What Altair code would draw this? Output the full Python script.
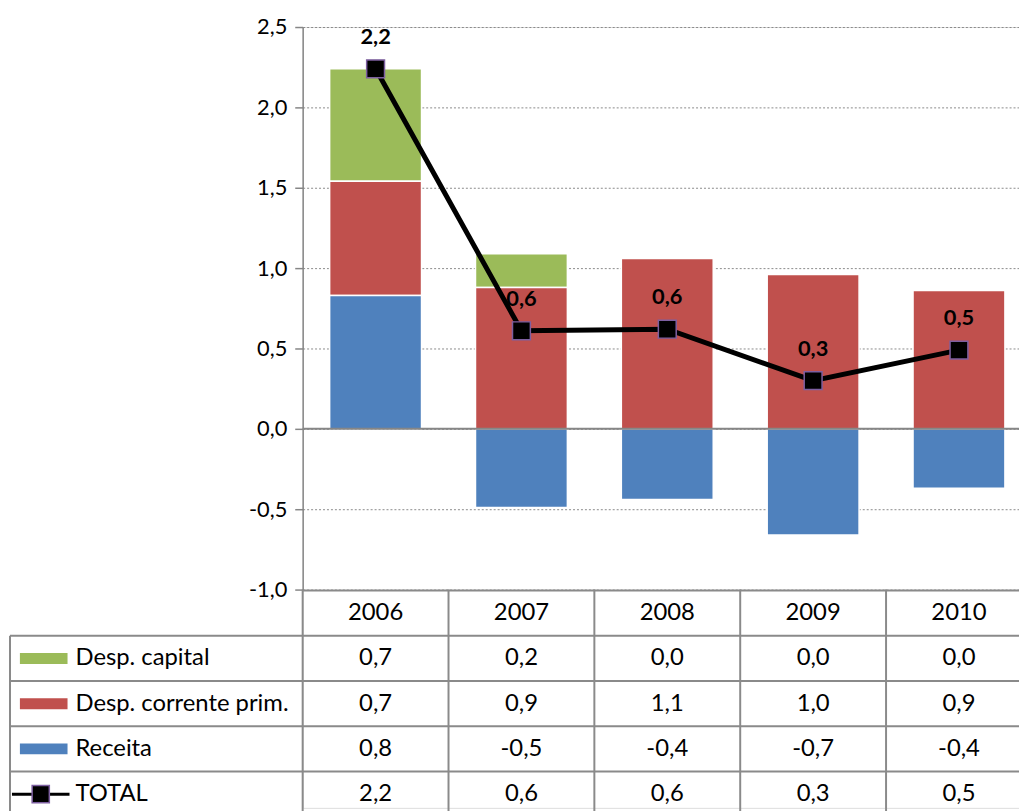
import altair as alt
import pandas as pd

# ---- data ----
years = ["2006", "2007", "2008", "2009", "2010"]
series_names = ["Desp. capital", "Desp. corrente prim.", "Receita"]
desp_capital = [0.70, 0.21, 0.00, 0.00, 0.00]
desp_corrente = [0.71, 0.88, 1.06, 0.96, 0.86]
receita = [0.83, -0.49, -0.44, -0.66, -0.37]
total = [2.24, 0.61, 0.62, 0.30, 0.49]
colors = ["#9BBB59", "#C0504D", "#4F81BD"]
table_rows = ["Ano", "Desp. capital", "Desp. corrente prim.", "Receita", "TOTAL"]
y_ticks = [-1.0, -0.5, 0.0, 0.5, 1.0, 1.5, 2.0, 2.5]


def fmt(v):
    return f"{v:.1f}".replace(".", ",")


# ---- tables built from the arrays ----
stack_order = {"Receita": 0, "Desp. corrente prim.": 1, "Desp. capital": 2}
series_vals = {"Desp. capital": desp_capital, "Desp. corrente prim.": desp_corrente, "Receita": receita}
bars = pd.DataFrame([
    {"year": y, "series": s, "value": series_vals[s][i], "order": stack_order[s]}
    for s in series_names for i, y in enumerate(years)
])
tot = pd.DataFrame({"year": years, "total": total, "label": [fmt(v) for v in total]})

cells = []
for i, y in enumerate(years):
    cells.append({"row": "Ano", "year": y, "txt": y})
    for s in series_names:
        cells.append({"row": s, "year": y, "txt": fmt(series_vals[s][i])})
    cells.append({"row": "TOTAL", "year": y, "txt": fmt(total[i])})
cells = pd.DataFrame(cells)
rows_df = pd.DataFrame({"row": table_rows})
keys_df = pd.DataFrame({"row": series_names, "series": series_names})
years_df = pd.DataFrame({"year": years})

FONT = "Lato"
GRID = "#8a8a8a"

# ---- scales ----
xs = alt.Scale(domain=years, range=[0, 735], paddingInner=0.37, paddingOuter=0.185)
ys = alt.Scale(domain=[-1, 2.5], range=[567, 0], nice=False, zero=False)
cs = alt.Scale(domain=series_names, range=colors)
xt = alt.Scale(domain=years, range=[0, 735], paddingInner=0, paddingOuter=0)
yt = alt.Scale(domain=table_rows, range=[568, 796], paddingInner=0, paddingOuter=0)

label_expr = "replace(replace(format(datum.value, '.1f'), '.', ','), '\u2212', '-')"
y_axis = alt.Axis(
    values=y_ticks, labelExpr=label_expr, title=None, grid=True, gridDash=[2, 2],
    gridColor=GRID, gridWidth=1, domainColor="#868686", domainWidth=1.5,
    tickColor="#868686", tickSize=8, tickWidth=1.5, labelFontSize=22, labelFont=FONT,
    labelColor="black", labelPadding=8,
)

bar_layer = alt.Chart(bars).mark_bar(stroke="white", strokeWidth=1.5).encode(
    x=alt.X("year:N", scale=xs, axis=None),
    y=alt.Y("value:Q", stack="zero", scale=ys, axis=y_axis),
    color=alt.Color("series:N", scale=cs, legend=None),
    order=alt.Order("order:Q"),
)
zero_line = alt.Chart(pd.DataFrame({"z": [0]})).mark_rule(color="#868686", strokeWidth=2).encode(
    y=alt.Y("z:Q", scale=ys)
)
line = alt.Chart(tot).mark_line(color="black", strokeWidth=5).encode(
    x=alt.X("year:N", scale=xs, axis=None),
    y=alt.Y("total:Q", scale=ys),
)
points = alt.Chart(tot).mark_square(
    size=324, color="black", opacity=1, stroke="#7D5FA0", strokeWidth=1.5
).encode(
    x=alt.X("year:N", scale=xs, axis=None),
    y=alt.Y("total:Q", scale=ys),
)
labels = alt.Chart(tot).mark_text(
    font=FONT, fontWeight="bold", fontSize=22, dy=-25, baseline="alphabetic", color="black"
).encode(
    x=alt.X("year:N", scale=xs, axis=None),
    y=alt.Y("total:Q", scale=ys),
    text="label:N",
)
plot = alt.layer(bar_layer, zero_line, line, points, labels)

# ---- data table ----
cell_text = alt.Chart(cells).mark_text(font=FONT, fontSize=24, color="black").encode(
    x=alt.X("year:N", scale=xt, axis=None),
    y=alt.Y("row:N", scale=yt, axis=None),
    text="txt:N",
)
row_text = alt.Chart(rows_df).transform_filter("datum.row != 'Ano'").mark_text(
    font=FONT, fontSize=24, color="black", align="left"
).encode(
    x=alt.value(-229),
    y=alt.Y("row:N", scale=yt, axis=None),
    text="row:N",
)
swatch = alt.Chart(keys_df).mark_rule(strokeWidth=11, strokeCap="butt").encode(
    x=alt.value(-285), x2=alt.value(-237),
    y=alt.Y("row:N", scale=yt, axis=None),
    color=alt.Color("series:N", scale=cs, legend=None),
)
tot_key_line = alt.Chart(pd.DataFrame({"row": ["TOTAL"]})).mark_rule(
    strokeWidth=3, color="black"
).encode(
    x=alt.value(-293), x2=alt.value(-235),
    y=alt.Y("row:N", scale=yt, axis=None),
)
tot_key_pt = alt.Chart(pd.DataFrame({"row": ["TOTAL"]})).mark_square(
    size=300, color="black", opacity=1, stroke="#7D5FA0", strokeWidth=1.5
).encode(
    x=alt.value(-264),
    y=alt.Y("row:N", scale=yt, axis=None),
)
h_header = alt.Chart(pd.DataFrame({"row": ["Ano"]})).mark_rule(color=GRID, strokeWidth=2).encode(
    x=alt.value(0), x2=alt.value(740),
    y=alt.Y("row:N", scale=yt, axis=None, bandPosition=0),
)
h_rows = alt.Chart(rows_df).transform_filter("datum.row != 'Ano'").mark_rule(
    color=GRID, strokeWidth=2
).encode(
    x=alt.value(-295), x2=alt.value(740),
    y=alt.Y("row:N", scale=yt, axis=None, bandPosition=0),
)
v_cols = alt.Chart(years_df).mark_rule(color=GRID, strokeWidth=2).encode(
    x=alt.X("year:N", scale=xt, axis=None, bandPosition=0),
    y=alt.value(567), y2=alt.value(800),
)
v_left = alt.Chart(pd.DataFrame({"row": ["Desp. capital"]})).mark_rule(
    color=GRID, strokeWidth=2
).encode(
    x=alt.value(-295),
    y=alt.Y("row:N", scale=yt, axis=None, bandPosition=0),
    y2=alt.value(800),
)
table = alt.layer(h_header, h_rows, v_cols, v_left, swatch, tot_key_line, tot_key_pt,
                  cell_text, row_text)

chart = alt.layer(plot, table).resolve_scale(x="independent", y="independent").properties(
    width=722,
    height=787,
    autosize=alt.AutoSizeParams(type="none"),
    padding={"left": 297, "top": 16, "right": 0, "bottom": 0},
).configure_view(stroke=None).configure(font=FONT)

chart.save("out.html", embed_options={"renderer": "svg", "actions": False})
